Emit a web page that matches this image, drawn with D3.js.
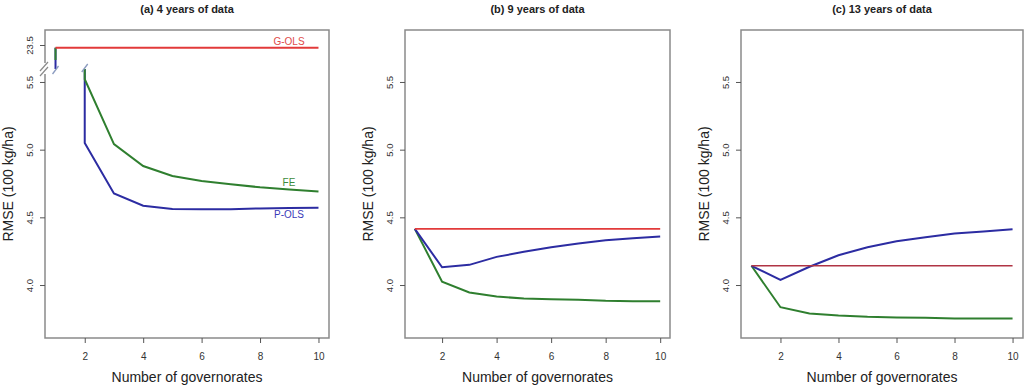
<!DOCTYPE html>
<html><head><meta charset="utf-8">
<script src="https://cdn.jsdelivr.net/npm/d3@7"></script>
<style>body{margin:0;background:#fff}svg{display:block;font-family:"Liberation Sans",Arial,sans-serif}</style>
</head><body><svg id="c" width="1024" height="391"></svg>
<script>
const xs = [1,2,3,4,5,6,7,8,9,10];
const xTicks = [2,4,6,8,10];
const yTicks = [4.0,4.5,5.0,5.5];
const yTickTopA = [23.5];
const titles = ["(a) 4 years of data","(b) 9 years of data","(c) 13 years of data"];
const gols = [23.48, 4.415, 4.142];
const feA   = [23.48, 5.52, 5.041, 4.879, 4.805, 4.768, 4.744, 4.722, 4.706, 4.690];
const polsA = [23.48, 5.049, 4.677, 4.586, 4.561, 4.559, 4.560, 4.566, 4.569, 4.571];
const feB   = [4.415, 4.024, 3.945, 3.915, 3.900, 3.895, 3.891, 3.883, 3.880, 3.880];
const polsB = [4.415, 4.131, 4.149, 4.208, 4.245, 4.279, 4.307, 4.331, 4.346, 4.358];
const feC   = [4.142, 3.836, 3.790, 3.775, 3.765, 3.760, 3.758, 3.753, 3.753, 3.753];
const polsC = [4.142, 4.038, 4.135, 4.220, 4.279, 4.323, 4.353, 4.380, 4.395, 4.412];
const seriesLabels = ["G-OLS","FE","P-OLS"];

const svg = d3.select("#c");
const boxes = [{l:45,r:329},{l:405,r:670},{l:741,r:1023}];
const yTopPx = 30, yBotPx = 338;
const colG = "#2f7f2f", colB = "#2c2ca2";
const redCols = ["#e23a3a","#e23a3a","#b03444"];
const fe = [feA, feB, feC], pols = [polsA, polsB, polsC];

boxes.forEach((b, i) => {
  const g = svg.append("g");
  const x = d3.scaleLinear().domain([0.64,10.36]).range([b.l,b.r]);
  const y = d3.scaleLinear().domain([3.616,5.884]).range([yBotPx-1,yTopPx]);
  const yTop = d3.scaleLinear().domain([23.5,23.5-1]).range([45,45+135.4]);
  const cx = (b.l+b.r)/2;
  g.append("text").attr("x",cx).attr("y",12.5).attr("text-anchor","middle")
    .attr("font-weight","bold").attr("font-size",11).attr("fill","#222").text(titles[i]);
  const boxCol = "#8a8a8a";
  if (i === 0) {
    g.append("path").attr("fill","none").attr("stroke",boxCol).attr("stroke-width",1.5)
      .attr("d",`M${b.l},63 L${b.l},${yTopPx} L${b.r},${yTopPx} L${b.r},${yBotPx} L${b.l},${yBotPx} L${b.l},74`);
    [66,71].forEach(yy => g.append("line").attr("x1",b.l-5).attr("y1",yy+5).attr("x2",b.l+3).attr("y2",yy-4)
      .attr("stroke","#8a8a8a").attr("stroke-width",1.2));
  } else {
    g.append("rect").attr("x",b.l).attr("y",yTopPx).attr("width",b.r-b.l).attr("height",yBotPx-yTopPx)
      .attr("fill","none").attr("stroke",boxCol).attr("stroke-width",1.5);
  }
  const xa = d3.axisBottom(x).tickValues(xTicks).tickSize(5).tickSizeOuter(0).tickFormat(d3.format("d"));
  const gx = g.append("g").attr("transform",`translate(0,${yBotPx})`).call(xa);
  gx.select(".domain").remove();
  gx.selectAll("line").attr("stroke","#555");
  gx.selectAll("text").attr("font-size",10).attr("fill","#333").attr("dy","1.4em");
  const yGroups = [];
  const gy = g.append("g").attr("transform",`translate(${b.l},0)`)
    .call(d3.axisLeft(y).tickValues(yTicks).tickSize(5).tickFormat(d3.format(".1f")));
  yGroups.push(gy);
  if (i === 0) {
    const gy2 = g.append("g").attr("transform",`translate(${b.l},0)`)
      .call(d3.axisLeft(yTop).tickValues(yTickTopA).tickSize(5).tickFormat(d3.format(".1f")));
    yGroups.push(gy2);
  }
  yGroups.forEach(ga => {
    ga.select(".domain").remove();
    ga.selectAll(".tick line").attr("stroke","#555");
    ga.selectAll(".tick text").attr("font-size",9.5).attr("fill","#333")
      .attr("x",null).attr("dy",null)
      .attr("transform","translate(-12,0) rotate(-90)").attr("text-anchor","middle");
  });
  g.append("text").attr("transform",`translate(${b.l-32},${(yTopPx+yBotPx)/2}) rotate(-90)`)
    .attr("text-anchor","middle").attr("font-size",14).attr("fill","#222").text("RMSE (100 kg/ha)");
  g.append("text").attr("x",cx).attr("y",382).attr("text-anchor","middle")
    .attr("font-size",14).attr("fill","#222").text("Number of governorates");

  const line = d3.line().x((d,k)=>x(xs[k])).y(d=>y(d));
  const red = redCols[i];
  if (i === 0) {
    const breakY1 = 69, breakY2 = 69;
    [[pols[0],colB],[fe[0],colG]].forEach(([s,c]) => {
      const pts = s.slice(1).map((v,k)=>[x(xs[k+1]),y(v)]);
      pts.unshift([x(xs[1]),breakY2]);
      g.append("path").attr("d",d3.line()(pts)).attr("fill","none").attr("stroke",c).attr("stroke-width",2);
    });
    g.append("line").attr("x1",x(xs[0])).attr("x2",x(xs[0])).attr("y1",yTop(fe[0][0])).attr("y2",breakY1)
      .attr("stroke",colB).attr("stroke-width",2);
    g.append("line").attr("x1",x(xs[0])).attr("x2",x(xs[0])).attr("y1",yTop(fe[0][0])).attr("y2",60)
      .attr("stroke",colG).attr("stroke-width",2);
    g.append("line").attr("x1",x(xs[0])).attr("x2",x(xs[9])).attr("y1",yTop(gols[0])).attr("y2",yTop(gols[0]))
      .attr("stroke",red).attr("stroke-width",2);
    [[x(1),breakY1+1],[x(2),breakY2-1]].forEach(([px,py]) =>
      g.append("line").attr("x1",px-3).attr("y1",py+4).attr("x2",px+3).attr("y2",py-4)
        .attr("stroke","#8c9cc0").attr("stroke-width",1.3));
    const lab = [[seriesLabels[0],45,"#e04a4a"],[seriesLabels[1],186,"#3c8c3c"],[seriesLabels[2],218,"#3a3ab8"]];
    lab.forEach(([t,yy,c]) => g.append("text").attr("x",289).attr("y",yy).attr("text-anchor","middle")
      .attr("font-size",10).attr("fill",c).text(t));
  } else {
    g.append("path").attr("d",line(fe[i])).attr("fill","none").attr("stroke",colG).attr("stroke-width",2);
    g.append("path").attr("d",line(pols[i])).attr("fill","none").attr("stroke",colB).attr("stroke-width",2);
    g.append("line").attr("x1",x(xs[0])).attr("x2",x(xs[9])).attr("y1",y(gols[i])).attr("y2",y(gols[i]))
      .attr("stroke",red).attr("stroke-width",1.6);
  }
});
</script></body></html>
